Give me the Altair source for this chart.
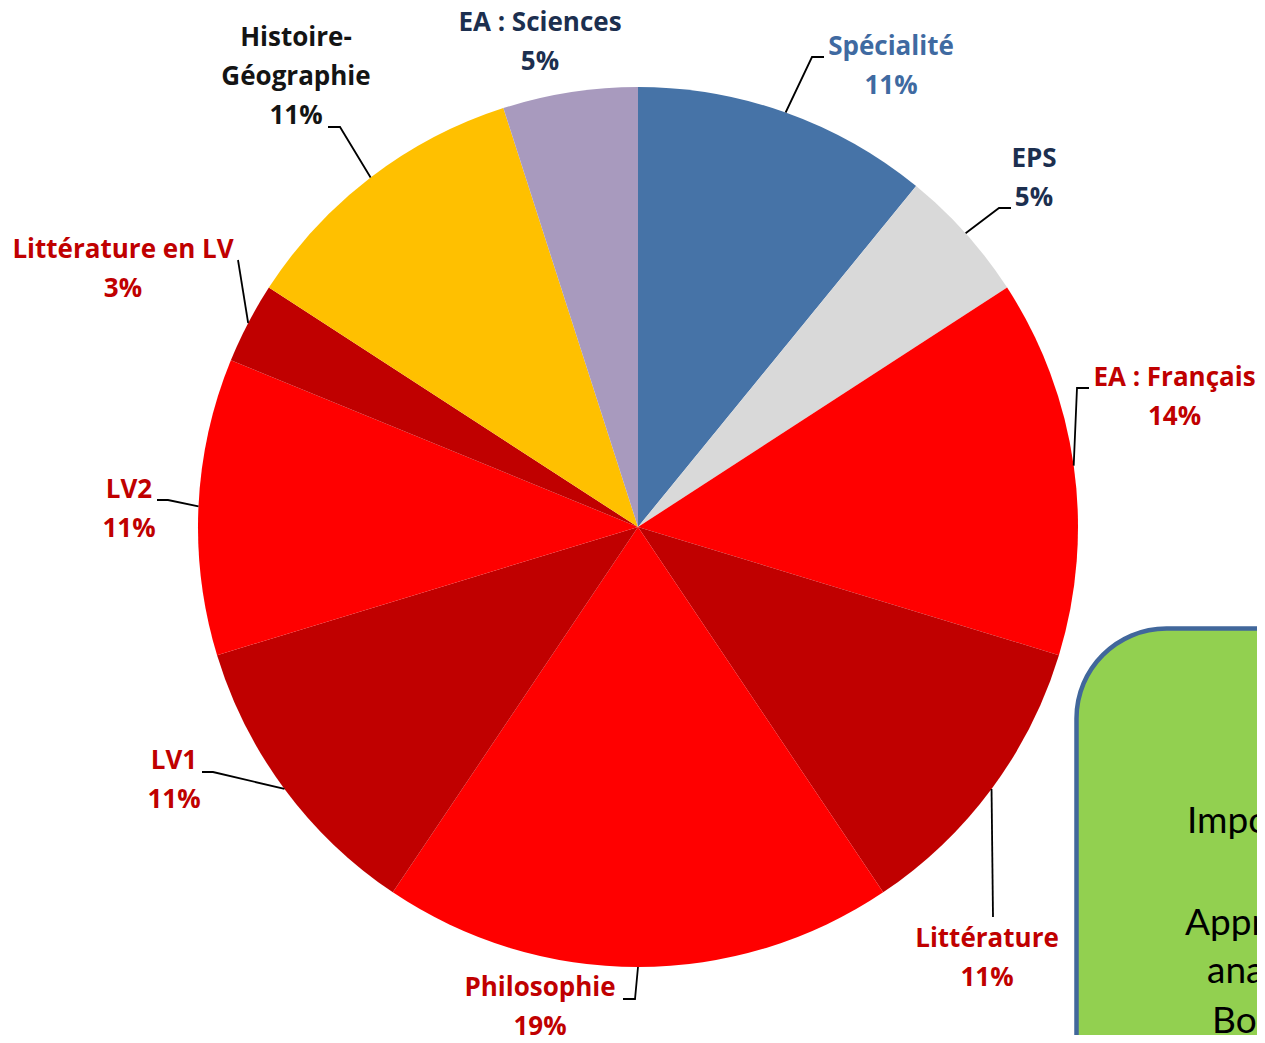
import altair as alt
import numpy as np
import pandas as pd

# ---------------- data ----------------
categories = ["Spécialité", "EPS", "EA : Français", "Littérature", "Philosophie",
              "LV1", "LV2", "Littérature en LV", "Histoire-Géographie", "EA : Sciences"]
values = [11, 5, 14, 11, 19, 11, 11, 3, 11, 5]
label_names = ["Spécialité", "EPS", "EA : Français", "Littérature", "Philosophie",
               "LV1", "LV2", "Littérature en LV", "Histoire-\nGéographie", "EA : Sciences"]

box_lines = ["Importance de l'écrit", "Approfondissement,", "analyse critique", "Bonne maîtrise"]

# ---------------- styles ----------------
slice_colors = ["#4673A7", "#D9D9D9", "#FF0000", "#C00000", "#FF0000",
                "#C00000", "#FF0000", "#C00000", "#FFC000", "#A89ABE"]
label_colors = ["#3F6AA1", "#1C2F4F", "#C00000", "#C00000", "#C00000",
                "#C00000", "#C00000", "#C00000", "#141414", "#1C2F4F"]

# ---------------- layout (page pixels) ----------------
W, H = 1249, 1027
ORG = 8
CX, CY, R = 638, 527, 440

# centre of the first line of each label
label_anchor = [(891, 47), (1034, 159), (1174.5, 378), (987, 939), (540, 988),
                (174, 761), (129, 490), (123, 250), (296, 38), (540, 23)]
leader_bends = [[(812, 57), (824, 57)],
                [(999, 208), (1011, 208)],
                [(1077, 388), (1089, 388)],
                [(993, 917)],
                [(635, 999), (623, 999)],
                [(213, 772), (202, 772)],
                [(168, 500), (157, 500)],
                [(238, 260)],
                [(340, 127), (328, 127)],
                []]
box_rect = (1076.5, 628.5, 1500, 1400)
box_text_pos = [(1187, 833), (1185, 935), (1207, 983), (1212, 1033)]


def U(px):
    return (px - CX) / R


def V(py):
    return (CY - py) / R


xs = alt.Scale(domain=[U(ORG), U(ORG + W)], nice=False, zero=False)
ys = alt.Scale(domain=[V(ORG + H), V(ORG)], nice=False, zero=False)

total = sum(values)
cum = np.cumsum([0] + values)
pie_df = pd.DataFrame({
    "category": categories,
    "t0": cum[:-1],
    "t1": cum[1:],
    "cx": 0.0,
    "cy": 0.0,
})

lab_rows = []
lead_rows = []
for i, name in enumerate(categories):
    pct = round(100 * values[i] / total)
    ax, ay = label_anchor[i]
    lab_rows.append({"cat": name, "text": f"{label_names[i]}\n{pct}%",
                     "lx": U(ax), "ly": V(ay), "lc": label_colors[i]})
    if leader_bends[i]:
        a = 2 * np.pi * (cum[i] + values[i] / 2) / total
        pts = [(np.sin(a), np.cos(a))] + [(U(px), V(py)) for px, py in leader_bends[i]]
        for k, (u, v) in enumerate(pts):
            lead_rows.append({"cat": name, "seq": k, "u": u, "v": v})
lab_df = pd.DataFrame(lab_rows)
lead_df = pd.DataFrame(lead_rows)

box_df = pd.DataFrame([{"x0": U(box_rect[0]), "y0": V(box_rect[1]),
                        "x1": U(box_rect[2]), "y1": V(box_rect[3])}])
bt_df = pd.DataFrame({"t": box_lines,
                      "bx": [U(p[0]) for p in box_text_pos],
                      "by": [V(p[1]) for p in box_text_pos]})

pie = alt.Chart(pie_df).mark_arc(radius=R, strokeWidth=0).encode(
    theta=alt.Theta("t0:Q", stack=False, scale=alt.Scale(domain=[0, total], range=[0, 2 * np.pi])),
    theta2="t1:Q",
    x=alt.X("cx:Q", scale=xs, axis=None, stack=False),
    y=alt.Y("cy:Q", scale=ys, axis=None, stack=False),
    color=alt.Color("category:N", scale=alt.Scale(domain=categories, range=slice_colors), legend=None),
)

leaders = alt.Chart(lead_df).mark_line(color="black", strokeWidth=1.8).encode(
    x=alt.X("u:Q", scale=xs, axis=None),
    y=alt.Y("v:Q", scale=ys, axis=None),
    detail="cat:N",
    order="seq:Q",
)

labels = alt.Chart(lab_df).mark_text(
    font="Open Sans", fontWeight="bold", fontSize=26, lineBreak="\n", lineHeight=39,
    align="center", baseline="middle",
).encode(
    x=alt.X("lx:Q", scale=xs, axis=None),
    y=alt.Y("ly:Q", scale=ys, axis=None),
    text="text:N",
    color=alt.Color("lc:N", scale=None),
)

box = alt.Chart(box_df).mark_rect(
    fill="#92D050", stroke="#41679B", strokeWidth=4.5, cornerRadius=90, clip=True,
).encode(
    x=alt.X("x0:Q", scale=xs, axis=None), x2="x1:Q",
    y=alt.Y("y0:Q", scale=ys, axis=None), y2="y1:Q",
)

box_text = alt.Chart(bt_df).mark_text(
    font="Lato", fontSize=37, color="black", align="left", baseline="alphabetic", clip=True,
).encode(
    x=alt.X("bx:Q", scale=xs, axis=None),
    y=alt.Y("by:Q", scale=ys, axis=None),
    text="t:N",
)

chart = alt.layer(pie, leaders, labels, box, box_text).properties(
    width=W, height=H, padding=0, background="white",
    autosize=alt.AutoSizeParams(type="none"),
).configure_view(stroke=None)

chart.save("out.html", embed_options={"renderer": "svg", "actions": False})
